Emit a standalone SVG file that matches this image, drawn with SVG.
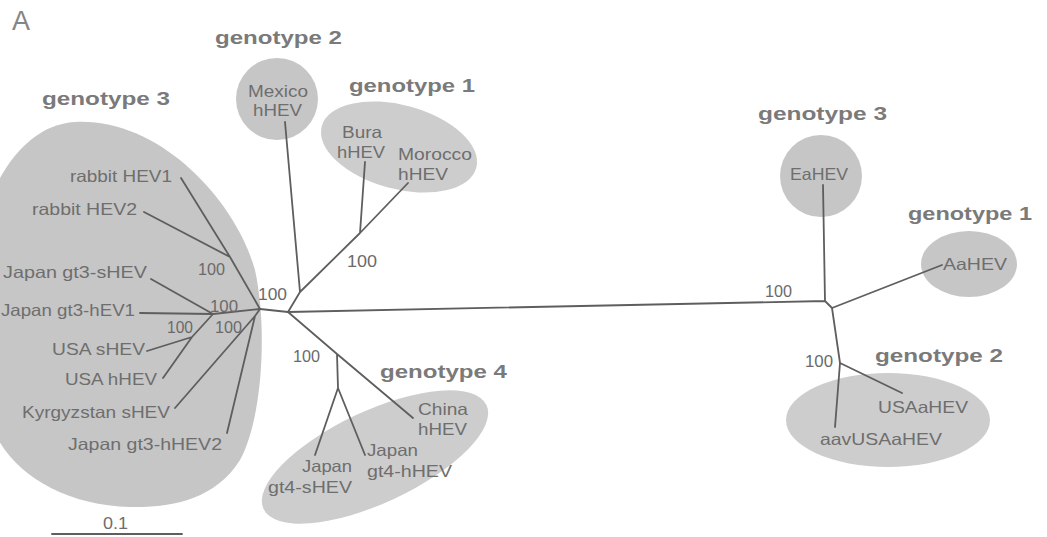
<svg xmlns="http://www.w3.org/2000/svg" width="1047" height="537" viewBox="0 0 1047 537">
<style>
.bg{fill:#ffffff}
.cl{fill:#c6c6c6}
.cl2{fill:#cdcdcd}
.br{stroke:#5e5e5e;stroke-width:1.8;fill:none;stroke-linecap:round;stroke-linejoin:round}
.lbl{font-family:"Liberation Sans",Arial,sans-serif;font-weight:bold;font-size:19px;fill:#7a7a7a}
.leaf{font-family:"Liberation Sans",Arial,sans-serif;font-size:16.5px;fill:#6e6e6e}
.bs{font-family:"Liberation Sans",Arial,sans-serif;font-size:16px;fill:#6a6a6a}
.pl{font-family:"Liberation Sans",Arial,sans-serif;font-size:27px;fill:#858585}
</style>
<rect class="bg" x="0" y="0" width="1047" height="537"/>
<text class="pl" x="12" y="30">A</text>

<g id="clusters">
  <path id="cl-gt3-left" class="cl" d="M 75 122 C 160 118 235 200 255 270 C 268 330 262 420 240 460 C 215 500 170 508 130 507 C 60 505 5 470 -10 420 L -10 200 C 5 160 35 124 75 122 Z"/>
  <circle id="cl-gt2-top" class="cl" cx="277" cy="99" r="41"/>
  <ellipse id="cl-gt1-top" class="cl2" cx="399" cy="147" rx="80" ry="42" transform="rotate(15 399 147)"/>
  <ellipse id="cl-gt4" class="cl2" cx="375" cy="457" rx="123" ry="46" transform="rotate(-25 375 457)"/>
  <circle id="cl-gt3-right" class="cl" cx="821" cy="176" r="41"/>
  <ellipse id="cl-gt1-right" class="cl" cx="969" cy="264" rx="48" ry="33"/>
  <ellipse id="cl-gt2-right" class="cl2" cx="888" cy="420" rx="102" ry="47"/>
</g>

<g id="connectors" class="br">
  <path d="M260 309 L230 257 M230 257 L181 178 M230 257 L144 212"/>
  <path d="M260 309 L213 314 M213 314 L151 279 M213 314 L140 313 M213 314 L192 337 M192 337 L147 351 M192 337 L163 378"/>
  <path d="M260 309 L255 316 M255 316 L175 408 M255 316 L227 433"/>
  <path d="M260 309 L288 312 L300 292 L285 122 M300 292 L360 233 L408 183 M360 233 L365 162"/>
  <path d="M288 312 L825 301 L823 185 M825 301 L832 308 L942 265 M832 308 L840 363 L902 393 M840 363 L835 427"/>
  <path d="M288 312 L337 354 L413 418 M337 354 L338 388 L315 455 M338 388 L365 455"/>
  <path d="M52 534 L182 534"/>
</g>

<g id="labels-genotype">
  <text class="lbl" x="42" y="105" textLength="128" lengthAdjust="spacingAndGlyphs">genotype 3</text>
  <text class="lbl" x="215" y="44" textLength="127" lengthAdjust="spacingAndGlyphs">genotype 2</text>
  <text class="lbl" x="349" y="92" textLength="126" lengthAdjust="spacingAndGlyphs">genotype 1</text>
  <text class="lbl" x="380" y="378" textLength="127" lengthAdjust="spacingAndGlyphs">genotype 4</text>
  <text class="lbl" x="758" y="120" textLength="129" lengthAdjust="spacingAndGlyphs">genotype 3</text>
  <text class="lbl" x="908" y="220" textLength="124" lengthAdjust="spacingAndGlyphs">genotype 1</text>
  <text class="lbl" x="875" y="362" textLength="128" lengthAdjust="spacingAndGlyphs">genotype 2</text>
</g>

<g id="node-gt3-left">
  <text class="leaf" x="70" y="182" textLength="102" lengthAdjust="spacingAndGlyphs">rabbit HEV1</text>
  <text class="leaf" x="32" y="215" textLength="105" lengthAdjust="spacingAndGlyphs">rabbit HEV2</text>
  <text class="leaf" x="3" y="278" textLength="144" lengthAdjust="spacingAndGlyphs">Japan gt3-sHEV</text>
  <text class="leaf" x="1" y="316" textLength="134" lengthAdjust="spacingAndGlyphs">Japan gt3-hEV1</text>
  <text class="leaf" x="52" y="355" textLength="93" lengthAdjust="spacingAndGlyphs">USA sHEV</text>
  <text class="leaf" x="65" y="385" textLength="92" lengthAdjust="spacingAndGlyphs">USA hHEV</text>
  <text class="leaf" x="22" y="418" textLength="148" lengthAdjust="spacingAndGlyphs">Kyrgyzstan sHEV</text>
  <text class="leaf" x="68" y="450" textLength="154" lengthAdjust="spacingAndGlyphs">Japan gt3-hHEV2</text>
</g>

<g id="node-gt2-top">
  <text class="leaf" x="248" y="97" textLength="60" lengthAdjust="spacingAndGlyphs">Mexico</text>
  <text class="leaf" x="253" y="116" textLength="49" lengthAdjust="spacingAndGlyphs">hHEV</text>
</g>

<g id="node-gt1-top">
  <text class="leaf" x="342" y="138" textLength="40" lengthAdjust="spacingAndGlyphs">Bura</text>
  <text class="leaf" x="337" y="158" textLength="48" lengthAdjust="spacingAndGlyphs">hHEV</text>
  <text class="leaf" x="398" y="160" textLength="74" lengthAdjust="spacingAndGlyphs">Morocco</text>
  <text class="leaf" x="398" y="180" textLength="50" lengthAdjust="spacingAndGlyphs">hHEV</text>
</g>

<g id="node-gt4">
  <text class="leaf" x="418" y="415" textLength="50" lengthAdjust="spacingAndGlyphs">China</text>
  <text class="leaf" x="418" y="435" textLength="49" lengthAdjust="spacingAndGlyphs">hHEV</text>
  <text class="leaf" x="367" y="456" textLength="51" lengthAdjust="spacingAndGlyphs">Japan</text>
  <text class="leaf" x="367" y="477" textLength="85" lengthAdjust="spacingAndGlyphs">gt4-hHEV</text>
  <text class="leaf" x="302" y="472" textLength="50" lengthAdjust="spacingAndGlyphs">Japan</text>
  <text class="leaf" x="268" y="493" textLength="84" lengthAdjust="spacingAndGlyphs">gt4-sHEV</text>
</g>

<g id="node-gt3-right">
  <text class="leaf" x="790" y="180" textLength="58" lengthAdjust="spacingAndGlyphs">EaHEV</text>
</g>
<g id="node-gt1-right">
  <text class="leaf" x="943" y="270" textLength="64" lengthAdjust="spacingAndGlyphs">AaHEV</text>
</g>
<g id="node-gt2-right">
  <text class="leaf" x="878" y="413" textLength="90" lengthAdjust="spacingAndGlyphs">USAaHEV</text>
  <text class="leaf" x="820" y="445" textLength="122" lengthAdjust="spacingAndGlyphs">aavUSAaHEV</text>
</g>

<g id="bootstrap">
  <text class="bs" x="198" y="275" textLength="27" lengthAdjust="spacingAndGlyphs">100</text>
  <text class="bs" x="258" y="300" textLength="29" lengthAdjust="spacingAndGlyphs">100</text>
  <text class="bs" x="210" y="312" textLength="28" lengthAdjust="spacingAndGlyphs">100</text>
  <text class="bs" x="167" y="333" textLength="26" lengthAdjust="spacingAndGlyphs">100</text>
  <text class="bs" x="215" y="333" textLength="27" lengthAdjust="spacingAndGlyphs">100</text>
  <text class="bs" x="347" y="267" textLength="30" lengthAdjust="spacingAndGlyphs">100</text>
  <text class="bs" x="293" y="362" textLength="27" lengthAdjust="spacingAndGlyphs">100</text>
  <text class="bs" x="765" y="297" textLength="27" lengthAdjust="spacingAndGlyphs">100</text>
  <text class="bs" x="805" y="367" textLength="28" lengthAdjust="spacingAndGlyphs">100</text>
</g>

<g id="scale">
  <text class="leaf" x="103" y="529" textLength="25" lengthAdjust="spacingAndGlyphs">0.1</text>
</g>
</svg>
